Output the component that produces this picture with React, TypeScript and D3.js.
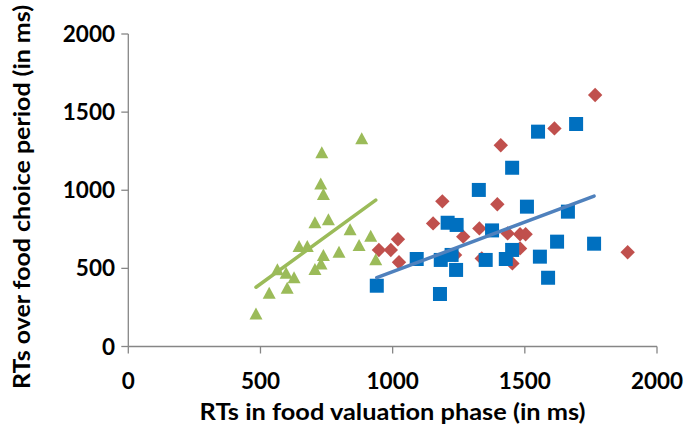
import React from "react";
import * as d3 from "d3";

// RTs in food valuation phase (x) vs RTs over food choice period (y), in ms
const greenX = [883, 732, 728, 738, 706, 757, 839, 917, 646, 677, 873, 797, 738, 729, 706, 936, 564, 597, 627, 601, 533, 483];
const greenY = [1333, 1243, 1044, 976, 795, 814, 750, 709, 643, 643, 650, 607, 586, 532, 496, 558, 494, 472, 443, 376, 344, 212];

const redX = [1612, 1409, 1766, 1889, 1188, 1396, 1153, 1020, 993, 948, 1024, 1267, 1328, 1435, 1482, 1503, 1482, 1453, 1236, 1337];
const redY = [1396, 1288, 1610, 603, 929, 910, 788, 686, 618, 618, 539, 703, 756, 724, 718, 718, 628, 532, 586, 564];

const blueX = [940, 1091, 1179, 1182, 1208, 1223, 1240, 1242, 1326, 1352, 1376, 1428, 1452, 1452, 1508, 1550, 1557, 1588, 1622, 1663, 1694, 1762];
const blueY = [389, 560, 336, 554, 792, 586, 490, 778, 1002, 554, 743, 560, 618, 1144, 895, 1375, 575, 440, 671, 863, 1424, 658];

const xTicks = [0, 500, 1000, 1500, 2000];
const yTicks = [0, 500, 1000, 1500, 2000];

const xTitle = "RTs in food valuation phase (in ms)";
const yTitle = "RTs over food choice period (in ms)";

const W = 684;
const H = 434;
const FONT = "Lato, 'Open Sans', sans-serif";
const AXIS = "#868686";
const TEXT = "#000000";

function linearFit(xs: number[], ys: number[]) {
  const n = xs.length;
  const mx = d3.mean(xs) as number;
  const my = d3.mean(ys) as number;
  let sxy = 0;
  let sxx = 0;
  for (let i = 0; i < n; i++) {
    sxy += (xs[i] - mx) * (ys[i] - my);
    sxx += (xs[i] - mx) * (xs[i] - mx);
  }
  const slope = sxy / sxx;
  const intercept = my - slope * mx;
  const [x0, x1] = d3.extent(xs) as [number, number];
  return [
    [x0, intercept + slope * x0],
    [x1, intercept + slope * x1],
  ] as [number, number][];
}

export default function App() {
  const x = d3.scaleLinear().domain([0, 2000]).range([128.3, 657]);
  const y = d3.scaleLinear().domain([0, 2000]).range([346.5, 34]);

  const line = d3
    .line<[number, number]>()
    .x((d) => x(d[0]))
    .y((d) => y(d[1]));

  const greenFit = linearFit(greenX, greenY);
  const blueFit = linearFit(blueX, blueY);

  const sq = 14;
  const dia = 7.2;
  const triW = 13;
  const triH = 12;

  return (
    <svg
      width={W}
      height={H}
      style={{ position: "absolute", left: 0, top: 0, background: "#fff" }}
    >
      {/* axes */}
      <g stroke={AXIS} strokeWidth={1.3} fill="none">
        <line x1={x(0)} x2={x(2000)} y1={y(0)} y2={y(0)} />
        <line x1={x(0)} x2={x(0)} y1={y(0)} y2={y(2000)} />
        {xTicks.map((t) => (
          <line key={"xt" + t} x1={x(t)} x2={x(t)} y1={y(0)} y2={y(0) + 7} />
        ))}
        {yTicks.map((t) => (
          <line key={"yt" + t} x1={x(0) - 7} x2={x(0)} y1={y(t)} y2={y(t)} />
        ))}
      </g>

      {/* tick labels */}
      <g fontFamily={FONT} fontWeight="bold" fontSize={22.5} fill={TEXT}>
        {xTicks.map((t) => (
          <text key={"xl" + t} x={x(t)} y={389} textAnchor="middle">
            {t}
          </text>
        ))}
        {yTicks.map((t) => (
          <text key={"yl" + t} x={115} y={y(t) + 8} textAnchor="end">
            {t}
          </text>
        ))}
      </g>

      {/* axis titles */}
      <text
        x={392.6}
        y={420}
        textAnchor="middle"
        fontFamily={FONT}
        fontWeight="bold"
        fontSize={22.5}
        fill={TEXT}
        textLength={386}
        lengthAdjust="spacingAndGlyphs"
      >
        {xTitle}
      </text>
      <text
        transform={`translate(30, 197) rotate(-90)`}
        textAnchor="middle"
        fontFamily={FONT}
        fontWeight="bold"
        fontSize={22.5}
        fill={TEXT}
        textLength={384}
        lengthAdjust="spacingAndGlyphs"
      >
        {yTitle}
      </text>

      {/* red diamonds */}
      <g fill="#C0504D">
        {redX.map((v, i) => {
          const cx = x(v);
          const cy = y(redY[i]);
          return (
            <path
              key={"r" + i}
              d={`M${cx},${cy - dia}L${cx + dia},${cy}L${cx},${cy + dia}L${cx - dia},${cy}Z`}
            />
          );
        })}
      </g>

      {/* green triangles */}
      <g fill="#9BBB59">
        {greenX.map((v, i) => {
          const cx = x(v);
          const cy = y(greenY[i]);
          return (
            <path
              key={"g" + i}
              d={`M${cx},${cy - triH / 2}L${cx + triW / 2},${cy + triH / 2}L${cx - triW / 2},${cy + triH / 2}Z`}
            />
          );
        })}
      </g>

      {/* blue squares */}
      <g fill="#0070C0">
        {blueX.map((v, i) => (
          <rect
            key={"b" + i}
            x={x(v) - sq / 2}
            y={y(blueY[i]) - sq / 2}
            width={sq}
            height={sq}
          />
        ))}
      </g>

      {/* linear trendlines */}
      <path d={line(greenFit) || ""} stroke="#9BBB59" strokeWidth={3.5} fill="none" strokeLinecap="round" />
      <path d={line(blueFit) || ""} stroke="#4F81BD" strokeWidth={3.5} fill="none" strokeLinecap="round" />
    </svg>
  );
}
